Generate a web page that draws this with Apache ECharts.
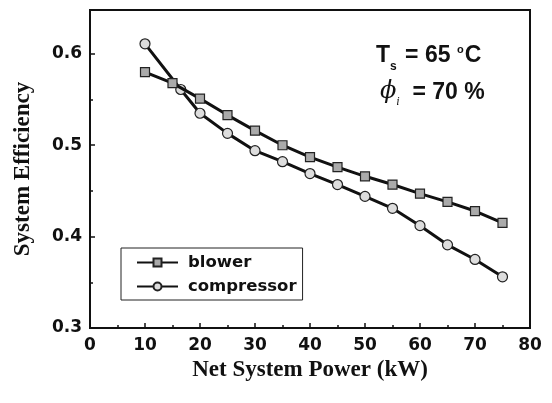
<!DOCTYPE html>
<html>
<head>
<meta charset="utf-8">
<style>
  html, body { margin: 0; padding: 0; background: #fff; }
  #chart { width: 552px; height: 403px; }
</style>
<script src="https://cdn.jsdelivr.net/npm/echarts@6/dist/echarts.min.js"></script>
</head>
<body>
<div id="chart"></div>
<script>
// net system power (kW)
var blowerPower = [10, 15, 20, 25, 30, 35, 40, 45, 50, 55, 60, 65, 70, 75];
var blowerEff = [0.580, 0.568, 0.551, 0.533, 0.516, 0.500, 0.487, 0.476, 0.466, 0.457, 0.447, 0.438, 0.428, 0.415];
var compPower = [10, 16.5, 20, 25, 30, 35, 40, 45, 50, 55, 60, 65, 70, 75];
var compEff = [0.611, 0.561, 0.535, 0.513, 0.494, 0.482, 0.469, 0.457, 0.444, 0.431, 0.412, 0.391, 0.375, 0.356];

function pairs(xs, ys) {
    return xs.map(function (x, i) { return [x, ys[i]]; });
}

var chart = echarts.init(document.getElementById('chart'));
var labelFont = { color: '#111', fontFamily: 'DejaVu Sans', fontWeight: 'bold', fontSize: 17 };
var nameFont = { color: '#111', fontFamily: 'Liberation Serif, Times New Roman', fontWeight: 'bold', fontSize: 23 };

chart.setOption({
    animation: false,
    grid: {
        left: 90, right: 22, top: 10, bottom: 75,
        show: true,
        borderColor: '#111',
        borderWidth: 2
    },
    legend: {
        orient: 'vertical',
        left: 121,
        top: 248,
        itemWidth: 41,
        itemHeight: 10,
        itemGap: 7,
        padding: [6, 6, 5, 15],
        borderColor: '#222',
        borderWidth: 1,
        textStyle: { color: '#111', fontFamily: 'DejaVu Sans', fontWeight: 'bold', fontSize: 16.5, padding: [0, 0, 0, 5] },
        data: ['blower', 'compressor']
    },
    xAxis: {
        type: 'value',
        min: 0, max: 80, interval: 10,
        name: 'Net System Power (kW)',
        nameLocation: 'middle',
        nameGap: 25,
        nameTextStyle: nameFont,
        axisLine: { show: true, lineStyle: { color: '#111', width: 2 } },
        axisTick: { show: true, inside: true, length: 5, lineStyle: { color: '#111', width: 1.5 } },
        minorTick: { show: true, splitNumber: 2, length: 3, lineStyle: { color: '#111', width: 1.5 } },
        axisLabel: Object.assign({ margin: 9 }, labelFont),
        splitLine: { show: false }
    },
    yAxis: {
        type: 'value',
        min: 0.3, max: 0.648, interval: 0.1,
        name: 'System Efficiency',
        nameLocation: 'middle',
        nameGap: 55,
        nameTextStyle: nameFont,
        axisLine: { show: true, lineStyle: { color: '#111', width: 2 } },
        axisTick: { show: true, inside: true, length: 5, lineStyle: { color: '#111', width: 1.5 } },
        minorTick: { show: true, splitNumber: 2, length: 3, lineStyle: { color: '#111', width: 1.5 } },
        axisLabel: Object.assign({ margin: 8, showMaxLabel: false, formatter: function (v) { return v.toFixed(1); } }, labelFont),
        splitLine: { show: false }
    },
    graphic: [
        {
            type: 'text', left: 376, top: 44,
            style: {
                text: '{t|T}{s|s}{t| = 65 }{o|o}{t|C}',
                rich: {
                    t: { fontFamily: 'Liberation Sans, Arial', fontWeight: 'bold', fontSize: 23, fill: '#111', verticalAlign: 'bottom' },
                    s: { fontFamily: 'Liberation Sans, Arial', fontWeight: 'bold', fontSize: 12, fill: '#111', verticalAlign: 'bottom', padding: [0, 2, -6, 0] },
                    o: { fontFamily: 'Liberation Sans, Arial', fontWeight: 'bold', fontSize: 11, fill: '#111', verticalAlign: 'top', padding: [0, 1, 12, 0] }
                }
            }
        },
        {
            type: 'text', left: 380, top: 80,
            style: {
                text: '{p|ϕ}{i|i}{t|  = 70 %}',
                rich: {
                    p: { fontFamily: 'DejaVu Serif', fontStyle: 'italic', fontSize: 24, fill: '#111', verticalAlign: 'bottom' },
                    i: { fontFamily: 'Liberation Serif', fontStyle: 'italic', fontSize: 12, fill: '#111', verticalAlign: 'bottom', padding: [0, 0, -4, 0] },
                    t: { fontFamily: 'Liberation Sans, Arial', fontWeight: 'bold', fontSize: 23, fill: '#111', verticalAlign: 'bottom' }
                }
            }
        }
    ],
    series: [
        {
            name: 'blower',
            type: 'line',
            data: pairs(blowerPower, blowerEff),
            symbol: 'rect',
            symbolSize: 9,
            lineStyle: { color: '#111', width: 3 },
            itemStyle: { color: '#aaa', borderColor: '#222', borderWidth: 1.2 },
            z: 3
        },
        {
            name: 'compressor',
            type: 'line',
            data: pairs(compPower, compEff),
            symbol: 'circle',
            symbolSize: 10,
            lineStyle: { color: '#111', width: 3 },
            itemStyle: { color: '#ddd', borderColor: '#222', borderWidth: 1.2 },
            z: 2
        }
    ]
});
</script>
</body>
</html>
